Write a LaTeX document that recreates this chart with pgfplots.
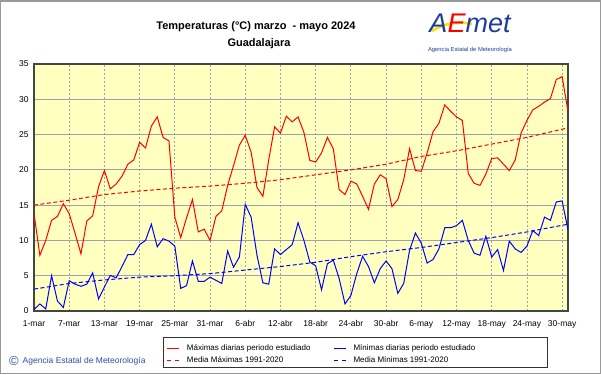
\documentclass[border=0pt]{standalone}
\usepackage{fontspec}
\setmainfont{Liberation Sans}
\usepackage{pgfplots}
\usepackage{pgfplotstable}
\usetikzlibrary{calc}
\pgfplotsset{compat=1.18}
\definecolor{yellowbg}{RGB}{255,255,192}
\definecolor{framec}{RGB}{64,72,64}
\definecolor{gridc}{RGB}{160,160,172}
\definecolor{aemetblue}{RGB}{30,60,160}
\definecolor{copyc}{RGB}{40,80,170}

\pgfplotstableread{
d v
0 13.8
1 7.9
2 10.0
3 12.85
4 13.4
5 15.2
6 13.8
7 11.0
8 8.1
9 12.75
10 13.5
11 17.6
12 19.9
13 17.3
14 18.0
15 19.1
16 20.8
17 21.4
18 23.9
19 23.1
20 26.2
21 27.5
22 24.6
23 24.1
24 13.3
25 10.4
26 13.2
27 15.8
28 11.2
29 11.6
30 10.0
31 13.4
32 14.2
33 17.8
34 20.6
35 23.5
36 24.9
37 22.5
38 17.5
39 16.25
40 21.4
41 26.1
42 25.2
43 27.6
44 26.8
45 27.5
46 25.3
47 21.35
48 21.1
49 22.4
50 24.6
51 23.0
52 17.2
53 16.5
54 18.4
55 18.0
56 16.25
57 14.4
58 18.0
59 19.3
60 18.75
61 14.8
62 15.8
63 18.6
64 23.0
65 19.9
66 19.8
67 22.4
68 25.4
69 26.6
70 29.2
71 28.3
72 27.5
73 27.0
74 19.5
75 18.1
76 17.8
77 19.4
78 21.6
79 21.7
80 20.8
81 19.9
82 21.4
83 25.2
84 27.0
85 28.5
86 29.0
87 29.6
88 30.1
89 32.8
90 33.2
91 28.3
}\tmax

\pgfplotstableread{
d v
0 0.2
1 1.0
2 0.3
3 5.0
4 1.4
5 0.5
6 4.3
7 3.8
8 3.5
9 3.8
10 5.4
11 1.7
12 3.4
13 5.05
14 4.7
15 6.3
16 8.0
17 8.0
18 9.4
19 10.0
20 12.3
21 9.1
22 10.25
23 9.9
24 9.2
25 3.2
26 3.6
27 7.1
28 4.2
29 4.2
30 4.8
31 4.35
32 3.9
33 8.5
34 6.2
35 7.65
36 15.1
37 13.3
38 7.9
39 4.0
40 3.8
41 8.8
42 8.0
43 8.7
44 9.4
45 12.5
46 10.0
47 6.95
48 6.4
49 3.0
50 6.7
51 7.2
52 4.6
53 1.0
54 2.2
55 5.3
56 7.75
57 6.3
58 4.0
59 6.0
60 7.1
61 6.0
62 2.5
63 3.9
64 8.6
65 11.05
66 9.6
67 6.8
68 7.3
69 8.8
70 11.8
71 11.8
72 12.1
73 12.85
74 10.0
75 8.2
76 7.9
77 10.6
78 7.65
79 8.7
80 5.75
81 9.9
82 8.8
83 8.3
84 9.2
85 11.4
86 10.7
87 13.3
88 12.85
89 15.45
90 15.6
91 11.5
}\tmin

\pgfplotstableread{
d v
0 15.0
6 15.7
12 16.5
18 17.0
24 17.4
30 17.7
36 18.1
42 18.6
48 19.3
54 20.0
60 20.8
66 21.9
72 22.7
78 23.65
84 24.6
91 25.95
}\nmax

\pgfplotstableread{
d v
0 3.1
6 3.9
12 4.4
18 4.8
24 5.0
30 5.3
36 5.8
42 6.3
48 6.9
54 7.7
60 8.4
66 9.0
72 9.7
78 10.4
84 11.2
91 12.3
}\nmin

\begin{document}
\begin{tikzpicture}
\begin{axis}[
  name=ax,
  at={(0,0)}, anchor=south west, scale only axis,
  width=534bp, height=247bp,
  xmin=0, xmax=91, ymin=0, ymax=35,
  xtick={0,6,...,90},
  xticklabels={1-mar,7-mar,13-mar,19-mar,25-mar,31-mar,6-abr,12-abr,18-abr,24-abr,30-abr,6-may,12-may,18-may,24-may,30-may},
  ytick={0,5,...,35},
  tick style={draw=none},
  xmajorgrids, ymajorgrids,
  x grid style={dash pattern=on 2bp off 2bp, draw=gridc, line width=0.8bp},
  y grid style={draw=gridc, line width=0.8bp},
  axis background/.style={fill=yellowbg},
  axis line style={draw=framec, line width=1.3bp},
  tick label style={font=\fontsize{8.5bp}{10bp}\selectfont},
  xticklabel style={yshift=-6bp},
  yticklabel style={xshift=-2bp},
  /pgf/number format/assume math mode=true,
  legend columns=2,
  legend cell align=left,
  legend style={at={(axis description cs:0.2485,-0.1285)}, anchor=north west,
    draw=none, fill=none, inner sep=0pt, row sep=0pt,
    font=\fontsize{8bp}{9.6bp}\selectfont,
    nodes={text height=6bp, text depth=2bp, inner sep=2bp},
    /tikz/every odd column/.append style={column sep=5bp},
    /tikz/every even column/.append style={column sep=21bp}},
]
\addplot[red, line width=1bp,
  legend image code/.code={\draw[red, line width=1bp] (0bp,0bp) -- (12bp,0bp);}] table[x=d,y=v]{\tmax};
\addlegendentry{Máximas diarias periodo estudiado}
\addplot[blue, line width=1bp,
  legend image code/.code={\draw[blue, line width=1bp] (0bp,0bp) -- (12bp,0bp);}] table[x=d,y=v]{\tmin};
\addlegendentry{Mínimas diarias periodo estudiado}
\addplot[red, line width=1bp, dash pattern=on 4bp off 2.5bp,
  legend image code/.code={\draw[red, line width=1bp, dash pattern=on 4bp off 4bp] (0bp,0bp) -- (12bp,0bp);}] table[x=d,y=v]{\nmax};
\addlegendentry{Media Máximas 1991-2020}
\addplot[blue, line width=1bp, dash pattern=on 4bp off 2.5bp,
  legend image code/.code={\draw[blue, line width=1bp, dash pattern=on 4bp off 4bp] (0bp,0bp) -- (12bp,0bp);}] table[x=d,y=v]{\nmin};
\addlegendentry{Media Mínimas 1991-2020}
\end{axis}

\begin{scope}[shift={($(ax.south west)+(-34bp,-63bp)$)}, x=1bp, y=1bp]
\draw[line width=1.5bp, gray!80] (0.75,0.75) rectangle (600.25,373.25);

% titles
\node[font=\fontsize{11bp}{13bp}\selectfont\bfseries] at (256,347) {Temperaturas (°C) marzo \ - mayo 2024};
\node[font=\fontsize{11bp}{13bp}\selectfont\bfseries] at (259,330.5) {Guadalajara};

% logo
\draw[line width=2.5bp, color=yellow!85!orange] (432,343) .. controls (445,351) and (458,353) .. (472,350);
\node[font=\fontsize{27bp}{27bp}\selectfont\itshape] at (470,351) {\textcolor{aemetblue}{A}\textcolor{red}{E}\textcolor{aemetblue}{met}};
\node[font=\fontsize{5.8bp}{6bp}\selectfont, text=aemetblue] at (470,324) {Agencia Estatal de Meteorología};

% legend box
\draw[line width=1bp, black!80] (163,37) rectangle (547,7);

% copyright
\node[font=\fontsize{13bp}{13bp}\selectfont, text=copyc] at (14,13) {©};
\node[font=\fontsize{8.5bp}{10bp}\selectfont, text=copyc, anchor=west, inner sep=0pt] at (22.5,13) {Agencia Estatal de Meteorología};

\pgfresetboundingbox
\path (0,0) rectangle (601,374);
\end{scope}
\end{tikzpicture}
\end{document}
